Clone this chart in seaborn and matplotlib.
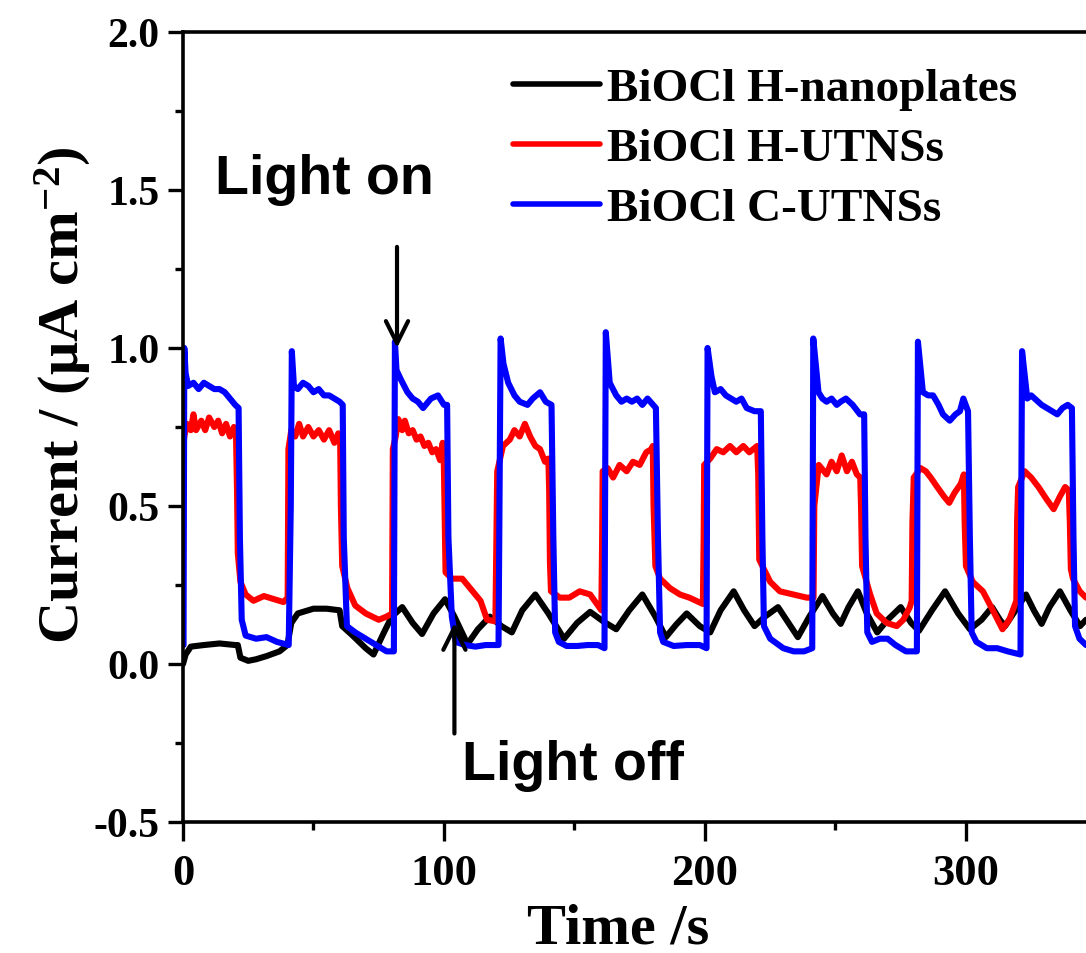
import numpy as np
import pandas as pd
import matplotlib
matplotlib.use("Agg")
import matplotlib.pyplot as plt
import seaborn as sns
from matplotlib.ticker import MultipleLocator, FormatStrFormatter

# ---------------- data ----------------
series_names = ["BiOCl H-nanoplates", "BiOCl H-UTNSs", "BiOCl C-UTNSs"]
series_colors = ["#000000", "#ff0000", "#0000ff"]

t_black = [0, 1, 3, 8, 14, 20, 21, 22, 25, 28, 32, 37, 40, 41.5, 44, 50, 55, 60, 61, 65, 70, 73, 77, 80,
           84, 88, 91.6, 96, 100.4, 104, 109, 113, 117.6, 122, 126, 130, 135, 140, 146, 151, 156, 161,
           166, 171, 176, 181, 185, 189, 193, 198, 202, 206, 211, 215, 219, 223, 228, 232, 235.6, 240,
           245, 249, 252, 255, 258.6, 262, 266, 270, 275, 279, 282, 287, 292, 297, 301.5, 306, 310,
           313, 315, 319, 323, 326, 329, 332, 336, 340, 343.7, 346]
i_black = [0.0, 0.03, 0.055, 0.06, 0.065, 0.06, 0.06, 0.02, 0.01, 0.015, 0.025, 0.04, 0.06, 0.13, 0.16,
           0.175, 0.175, 0.17, 0.12, 0.09, 0.05, 0.03, 0.10, 0.15, 0.18, 0.13, 0.095, 0.16, 0.205, 0.15,
           0.063, 0.11, 0.15, 0.12, 0.10, 0.17, 0.22, 0.16, 0.08, 0.13, 0.165, 0.135, 0.11, 0.17, 0.22,
           0.15, 0.085, 0.125, 0.16, 0.12, 0.10, 0.17, 0.23, 0.17, 0.12, 0.15, 0.18, 0.13, 0.085, 0.15,
           0.215, 0.16, 0.127, 0.18, 0.23, 0.16, 0.10, 0.14, 0.18, 0.13, 0.105, 0.17, 0.23, 0.16, 0.11,
           0.14, 0.18, 0.14, 0.12, 0.17, 0.22, 0.17, 0.127, 0.18, 0.23, 0.17, 0.12, 0.14]

t_red = [0.3, 0.5, 1.5, 3, 4, 5, 7, 8.5, 10, 12, 13.5, 15, 16.5, 18, 19.5, 20.3, 20.7, 21, 22, 24, 27, 31,
         35, 38.5, 40.1,
         40.4, 41.5, 43, 44.5, 46, 48, 50, 52, 54, 56, 58, 59.5, 60.2, 60.5, 61, 63, 66, 70, 75, 78, 80.1,
         80.4, 81.5, 82.5, 84, 85, 86.5, 88, 89.5, 91, 92.5, 94, 95.5, 97, 98.5, 99.5, 99.9, 100.3, 100.6,
         103, 107, 110, 114, 116.5, 119.7,
         120.1, 120.4, 122.6, 125.2, 127, 129, 131, 133, 135, 136.8, 138.7, 140, 140.3, 140.6, 141,
         144.4, 148, 152, 156, 158.6, 160.3,
         160.6, 160.8, 162.7, 164.8, 167.3, 170, 172.4, 175, 177.5, 179.5, 180, 180.3, 181, 182.8,
         186.6, 190.4, 194, 199.2,
         199.5, 199.7, 202, 204.5, 207, 209.6, 212, 214.7, 217, 220, 220.4, 220.8, 225, 228.7, 233.8,
         239, 241.6,
         241.9, 243.6, 246.6, 248.5, 250.5, 252.4, 254.4, 256.3, 258.2, 259.5, 259.8, 260.2, 263.3,
         265.8, 269.6, 273.5, 276, 278.5, 279.2,
         279.5, 280, 282.6, 284.6, 286.5, 289, 291.6, 293.6, 295.5, 298, 299.2, 299.5, 300, 302.6,
         306.5, 310.3, 314, 316.6, 319.3,
         319.6, 320, 322.5, 325, 327.8, 331, 333.6, 336, 338, 339.4, 339.8, 340.2, 341, 343.6, 346]
i_red = [0.70, 0.72, 0.76, 0.74, 0.79, 0.74, 0.77, 0.74, 0.78, 0.75, 0.77, 0.73, 0.76, 0.72, 0.75, 0.73,
         0.55, 0.35, 0.26, 0.22, 0.20, 0.215, 0.205, 0.196, 0.21,
         0.68, 0.74, 0.72, 0.76, 0.72, 0.75, 0.72, 0.74, 0.71, 0.74, 0.70, 0.73, 0.72, 0.50, 0.31, 0.24,
         0.185, 0.16, 0.14, 0.15, 0.16,
         0.68, 0.72, 0.775, 0.74, 0.77, 0.73, 0.74, 0.71, 0.72, 0.69, 0.70, 0.67, 0.68, 0.645, 0.70, 0.66,
         0.45, 0.29, 0.27, 0.27, 0.24, 0.20, 0.14, 0.135,
         0.40, 0.61, 0.69, 0.71, 0.74, 0.72, 0.76, 0.72, 0.69, 0.68, 0.64, 0.65, 0.55, 0.32, 0.23,
         0.21, 0.21, 0.23, 0.22, 0.19, 0.17,
         0.40, 0.61, 0.62, 0.59, 0.63, 0.61, 0.64, 0.63, 0.67, 0.68, 0.69, 0.50, 0.31, 0.27,
         0.24, 0.22, 0.21, 0.19,
         0.40, 0.63, 0.65, 0.68, 0.67, 0.69, 0.67, 0.69, 0.67, 0.69, 0.60, 0.33, 0.26, 0.23, 0.22,
         0.21, 0.21,
         0.50, 0.63, 0.60, 0.64, 0.61, 0.66, 0.61, 0.64, 0.60, 0.59, 0.50, 0.31, 0.22,
         0.16, 0.13, 0.12, 0.14, 0.18, 0.20,
         0.45, 0.59, 0.62, 0.61, 0.59, 0.56, 0.53, 0.51, 0.54, 0.57, 0.60, 0.45, 0.31, 0.26,
         0.23, 0.17, 0.11, 0.14, 0.20,
         0.45, 0.56, 0.61, 0.59, 0.56, 0.52, 0.49, 0.53, 0.56, 0.55, 0.45, 0.30, 0.27, 0.23, 0.21]

t_blue = [0.2, 0.5, 1.0, 2.0, 4, 6, 8, 10, 12, 14, 16, 18, 20, 21.3, 21.8, 22.5, 24, 28, 32, 36, 40.5,
          41.3, 41.7, 42.5, 44, 46, 48, 50, 52, 54, 56, 58, 60, 61.2, 61.6, 62.8, 66, 70, 74, 78, 80.8,
          81.2, 81.8, 83.5, 86, 88, 90, 92, 95, 97.7, 100, 101.2, 101.7, 103, 104.5, 108, 112, 116, 120.9,
          121.7, 122.8, 124.6, 127, 129, 132, 134, 136.8, 139, 141.2, 141.9, 142.6, 144, 147, 151, 155,
          159, 161.5,
          162, 163.5, 166, 168, 170, 172, 174, 176, 178, 181.2, 182, 182.8, 184, 188, 193, 198, 200.6,
          201, 202.5, 203.8, 206, 208, 210, 212, 214, 216, 219, 221.4, 222, 222.6, 225, 230, 234, 238,
          241.1,
          241.5, 243.5, 245, 246.6, 248.5, 250.5, 252, 254, 256.6, 259.4, 261, 261.5, 262.2, 264, 267,
          270, 273, 277, 281.2,
          281.6, 283.5, 285.5, 287.4, 289.5, 291.2, 293.8, 296, 297.7, 299, 300.8, 301.5, 302.2, 304,
          308, 312, 316, 320.9,
          321.5, 323.5, 325, 327, 329, 331, 333, 335, 337, 339, 340.6, 341.2, 341.8, 343.5, 346]
i_blue = [0.06, 1.00, 0.92, 0.88, 0.89, 0.87, 0.89, 0.88, 0.87, 0.87, 0.86, 0.84, 0.82, 0.81, 0.40,
          0.14, 0.09, 0.08, 0.085, 0.07, 0.06,
          0.50, 0.99, 0.88, 0.87, 0.89, 0.88, 0.86, 0.87, 0.85, 0.85, 0.84, 0.83, 0.82, 0.40, 0.12, 0.10,
          0.08, 0.06, 0.04, 0.04,
          1.02, 0.93, 0.90, 0.86, 0.84, 0.83, 0.81, 0.84, 0.85, 0.82, 0.82, 0.40, 0.15, 0.07, 0.06, 0.055,
          0.06, 0.06,
          1.03, 0.95, 0.89, 0.85, 0.83, 0.82, 0.84, 0.86, 0.83, 0.82, 0.40, 0.10, 0.07, 0.057, 0.057,
          0.06, 0.06, 0.05,
          1.05, 0.89, 0.85, 0.83, 0.84, 0.83, 0.84, 0.82, 0.84, 0.81, 0.40, 0.10, 0.07, 0.057, 0.06,
          0.06, 0.05,
          1.00, 0.91, 0.86, 0.87, 0.85, 0.84, 0.83, 0.84, 0.81, 0.80, 0.80, 0.40, 0.12, 0.08, 0.05, 0.04,
          0.04, 0.05,
          1.03, 0.86, 0.84, 0.83, 0.84, 0.82, 0.83, 0.84, 0.82, 0.79, 0.79, 0.40, 0.10, 0.07, 0.08,
          0.08, 0.06, 0.04, 0.04,
          1.02, 0.86, 0.85, 0.85, 0.82, 0.79, 0.77, 0.79, 0.80, 0.84, 0.80, 0.40, 0.10, 0.07,
          0.05, 0.05, 0.04, 0.03,
          0.99, 0.84, 0.85, 0.835, 0.82, 0.81, 0.80, 0.79, 0.81, 0.82, 0.81, 0.40, 0.12, 0.08, 0.06]

y_ticks = [-0.5, 0.0, 0.5, 1.0, 1.5, 2.0]
x_ticks = [0, 100, 200, 300]

# ---------------- styling ----------------
sns.set_style("ticks")
plt.rcParams["font.family"] = ["Liberation Serif", "DejaVu Serif"]
plt.rcParams["font.weight"] = "bold"
plt.rcParams["axes.unicode_minus"] = False
plt.rcParams["mathtext.fontset"] = "custom"
plt.rcParams["mathtext.rm"] = "Liberation Serif:bold"
plt.rcParams["mathtext.it"] = "Liberation Serif:bold"
plt.rcParams["mathtext.bf"] = "Liberation Serif:bold"
for key in ["text.color", "axes.labelcolor", "xtick.color", "ytick.color", "axes.edgecolor"]:
    plt.rcParams[key] = "black"

fig = plt.figure(figsize=(10.86, 9.54), dpi=100)
ax = fig.add_axes([183 / 1086, 131 / 954, 903 / 1086, 790 / 954])

frames = [pd.DataFrame({"t": t_black, "i": i_black}),
          pd.DataFrame({"t": t_red, "i": i_red}),
          pd.DataFrame({"t": t_blue, "i": i_blue})]
for df, name, col in zip(frames, series_names, series_colors):
    sns.lineplot(data=df, x="t", y="i", ax=ax, color=col, lw=4.4, label=name,
                 sort=False, estimator=None)

ax.set_xlim(0, 346)
ax.set_ylim(-0.5, 2.0)
ax.set_xticks(x_ticks)
ax.set_yticks(y_ticks)
ax.xaxis.set_minor_locator(MultipleLocator(50))
ax.yaxis.set_minor_locator(MultipleLocator(0.25))
ax.yaxis.set_major_formatter(FormatStrFormatter("%.1f"))

for s in ["left", "bottom", "top"]:
    ax.spines[s].set_linewidth(2.6)
ax.spines["right"].set_visible(False)

ax.tick_params(axis="y", which="major", direction="out", length=11, width=2.4, labelsize=30, pad=6)
ax.tick_params(axis="x", which="major", direction="out", length=14, width=2.4, labelsize=32, pad=8)
ax.tick_params(axis="both", which="minor", direction="out", length=6, width=2.4)
ax.tick_params(top=False, right=False, which="both")
for lab in ax.get_xticklabels() + ax.get_yticklabels():
    lab.set_fontweight("bold")

ax.set_xlabel("Time /s", fontsize=42, fontweight="bold")
ax.set_ylabel("Current / (μA cm$^{-2}$)", fontsize=42, fontweight="bold")
ax.xaxis.set_label_coords(0.482, -0.102)
ax.yaxis.set_label_coords(-0.100, 0.542)

leg = ax.legend(loc="upper left", bbox_to_anchor=(513 / 1086, 1 - 68 / 954),
                bbox_transform=fig.transFigure, frameon=False, fontsize=34,
                handlelength=1.85, handletextpad=0.15, labelspacing=0.36, borderpad=0,
                borderaxespad=0)
for line in leg.get_lines():
    line.set_linewidth(4)

sans = ["Liberation Sans", "DejaVu Sans"]
ax.text(12.3, 1.535, "Light on", fontsize=40, fontweight="bold", family=sans,
        ha="left", va="center")
ax.text(107, -0.32, "Light off", fontsize=40, fontweight="bold", family=sans,
        ha="left", va="center")
ax.annotate("", xy=(82, 1.0), xytext=(82, 1.32), zorder=6,
            arrowprops=dict(arrowstyle="->", lw=3, color="black", mutation_scale=40,
                            shrinkA=0, shrinkB=0))
ax.annotate("", xy=(104, 0.13), xytext=(104, -0.22), zorder=6,
            arrowprops=dict(arrowstyle="->", lw=3, color="black", mutation_scale=40,
                            shrinkA=0, shrinkB=0))

fig.savefig("out.png", dpi=100, facecolor="white")
